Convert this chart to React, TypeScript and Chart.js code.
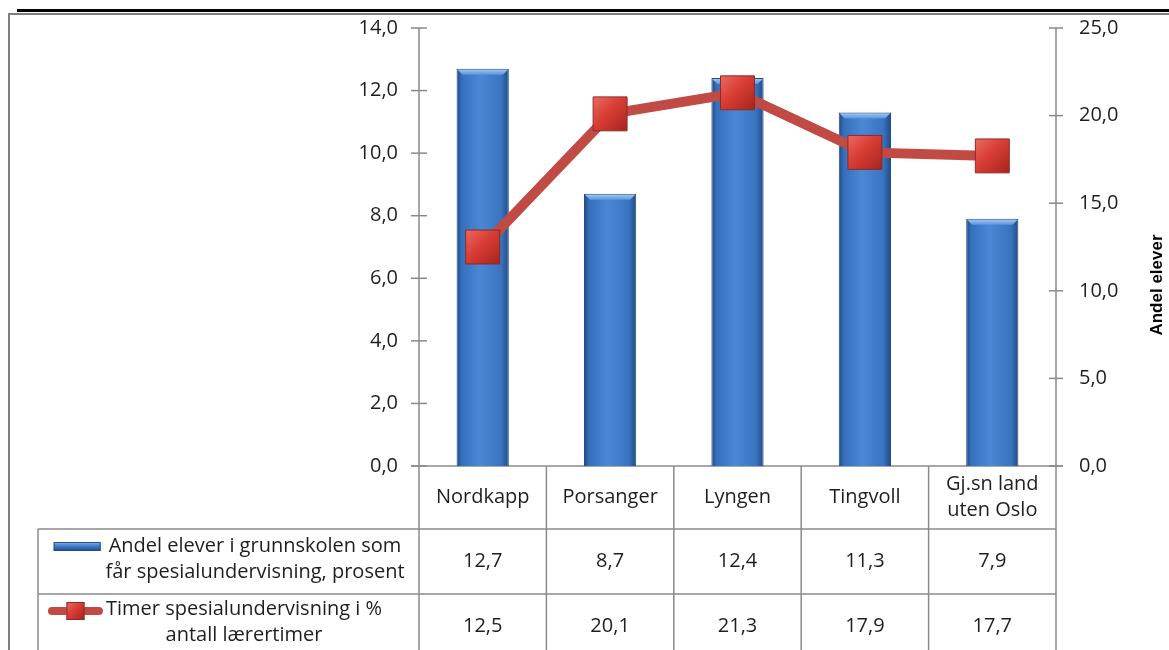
import React, { useEffect, useRef } from "react";
import { Chart, registerables } from "chart.js";

Chart.register(...registerables);

const categories: string[][] = [["Nordkapp"], ["Porsanger"], ["Lyngen"], ["Tingvoll"], ["Gj.sn land", "uten Oslo"]];
const barValues = [12.7, 8.7, 12.4, 11.3, 7.9];
const lineValues = [12.5, 20.1, 21.3, 17.9, 17.7];
const barLabel = ["Andel elever i grunnskolen som", "får spesialundervisning, prosent"];
const lineLabel = ["Timer spesialundervisning i %", "antall lærertimer"];
const leftAxis = { min: 0, max: 14, step: 2 };
const rightAxis = { min: 0, max: 25, step: 5 };
const rightTitle = "Andel elever";

const FONT = '"Open Sans", "Liberation Sans", sans-serif';
const TEXT = "#1e1e1e";
const GRID = "#8a8a8a";
const LINE = "#c24a45";
const BAR_PCT = 0.41;

const fmt = (v: number) => v.toFixed(1).replace(".", ",");

function barFill(ctx: any) {
  const chart = ctx.chart;
  const xs = chart.scales && chart.scales.x;
  if (!xs || ctx.dataIndex == null) return "#3b78c8";
  const x = xs.getPixelForValue(ctx.dataIndex);
  const hw = (xs.width / categories.length) * BAR_PCT / 2;
  if (!Number.isFinite(x) || !Number.isFinite(hw) || hw <= 0) return "#3b78c8";
  const g = chart.ctx.createLinearGradient(x - hw, 0, x + hw, 0);
  g.addColorStop(0, "#1f4a85");
  g.addColorStop(0.1, "#3670bd");
  g.addColorStop(0.45, "#4a87d4");
  g.addColorStop(0.85, "#3a74c0");
  g.addColorStop(1, "#204b86");
  return g;
}

function markerFill(ctx: any) {
  const chart = ctx.chart;
  const xs = chart.scales && chart.scales.x;
  const ys = chart.scales && chart.scales.y1;
  if (!xs || !ys || ctx.dataIndex == null) return "#d33c35";
  const x = xs.getPixelForValue(ctx.dataIndex);
  const y = ys.getPixelForValue(lineValues[ctx.dataIndex]);
  if (!Number.isFinite(x) || !Number.isFinite(y)) return "#d33c35";
  const g = chart.ctx.createLinearGradient(x - 17, y - 17, x + 17, y + 17);
  g.addColorStop(0, "#ea6a60");
  g.addColorStop(0.45, "#d83d34");
  g.addColorStop(1, "#a5241d");
  return g;
}

const tablePlugin = {
  id: "tablePlugin",
  beforeDatasetsDraw(chart: any) {
    const c = chart.ctx;
    const ys = chart.scales.y;
    const y1 = chart.scales.y1;
    const area = chart.chartArea;
    c.save();
    c.strokeStyle = GRID;
    c.lineWidth = 1.5;
    c.beginPath();
    c.moveTo(area.left, area.top);
    c.lineTo(area.left, chart.height);
    c.stroke();
    c.beginPath();
    c.moveTo(area.right, area.top);
    c.lineTo(area.right, area.bottom);
    c.stroke();
    for (let v = leftAxis.min; v <= leftAxis.max; v += leftAxis.step) {
      const y = ys.getPixelForValue(v);
      c.beginPath();
      c.moveTo(area.left - 8, y);
      c.lineTo(area.left + 8, y);
      c.stroke();
    }
    for (let v = rightAxis.min; v <= rightAxis.max; v += rightAxis.step) {
      const y = y1.getPixelForValue(v);
      c.beginPath();
      c.moveTo(area.right - 7, y);
      c.lineTo(area.right + 7, y);
      c.stroke();
    }
    c.beginPath();
    c.moveTo(area.left - 8, area.bottom);
    c.lineTo(area.right + 7, area.bottom);
    c.stroke();
    c.restore();
  },
  afterDatasetDraw(chart: any, args: any) {
    const meta = args.meta;
    if (meta.type !== "bar") return;
    const c = chart.ctx;
    c.save();
    meta.data.forEach((el: any) => {
      const l = el.x - el.width / 2;
      const r = el.x + el.width / 2;
      const t = el.y;
      const g = c.createLinearGradient(0, t, 0, t + 6);
      g.addColorStop(0, "#a9ccf5");
      g.addColorStop(1, "#5b95dc");
      c.fillStyle = g;
      c.beginPath();
      c.moveTo(l + 1, t + 1);
      c.lineTo(r - 1, t + 1);
      c.lineTo(r - 6, t + 6);
      c.lineTo(l + 6, t + 6);
      c.closePath();
      c.fill();
    });
    c.restore();
  },
  afterDraw(chart: any) {
    const c = chart.ctx;
    const xs = chart.scales.x;
    const area = chart.chartArea;
    const n = categories.length;
    const colW = (area.right - area.left) / n;
    const row1Top = 529;
    const row2Top = 594;
    const legendLeft = 38;
    c.save();

    c.strokeStyle = "#000";
    c.lineWidth = 3;
    c.beginPath();
    c.moveTo(17, 10.5);
    c.lineTo(chart.width, 10.5);
    c.stroke();
    c.strokeStyle = "#7f7f7f";
    c.lineWidth = 2;
    c.beginPath();
    c.moveTo(9, chart.height);
    c.lineTo(9, 14);
    c.lineTo(chart.width, 14);
    c.stroke();

    c.strokeStyle = GRID;
    c.lineWidth = 1.5;
    for (let k = 1; k <= n; k++) {
      const x = area.left + k * colW;
      c.beginPath();
      c.moveTo(x, area.bottom);
      c.lineTo(x, chart.height);
      c.stroke();
    }
    [row1Top, row2Top].forEach((y) => {
      c.beginPath();
      c.moveTo(legendLeft, y);
      c.lineTo(area.right, y);
      c.stroke();
    });
    c.beginPath();
    c.moveTo(legendLeft, row1Top);
    c.lineTo(legendLeft, chart.height);
    c.stroke();

    c.fillStyle = TEXT;
    c.font = `20px ${FONT}`;
    c.textAlign = "center";
    c.textBaseline = "middle";
    categories.forEach((lines, i) => {
      const x = xs.getPixelForValue(i);
      const cy = 497;
      const lh = 26;
      lines.forEach((t, j) => {
        c.fillText(t, x, cy + (j - (lines.length - 1) / 2) * lh);
      });
      c.fillText(fmt(barValues[i]), x, 561);
      c.fillText(fmt(lineValues[i]), x, 626);
    });

    const lh = 26;
    const r1x = 255;
    c.fillText(barLabel[0], r1x, 546);
    c.fillText(barLabel[1], r1x, 546 + lh);
    const r2x = 244;
    c.fillText(lineLabel[0], r2x, 609);
    c.fillText(lineLabel[1], r2x, 609 + lh);

    const w1 = c.measureText(barLabel[0]).width;
    const k1r = r1x - w1 / 2 - 8;
    const k1l = k1r - 47;
    const gb = c.createLinearGradient(0, 542, 0, 551);
    gb.addColorStop(0, "#8fbaf0");
    gb.addColorStop(0.35, "#4a87d4");
    gb.addColorStop(1, "#1f4a85");
    c.fillStyle = gb;
    c.fillRect(k1l, 542, 47, 9);
    c.strokeStyle = "#244f8a";
    c.lineWidth = 1;
    c.strokeRect(k1l + 0.5, 542.5, 46, 8);

    const w2 = c.measureText(lineLabel[0]).width;
    const k2r = r2x - w2 / 2 - 3;
    const k2l = k2r - 55;
    const ky = 611;
    c.strokeStyle = LINE;
    c.lineWidth = 8;
    c.lineCap = "round";
    c.beginPath();
    c.moveTo(k2l + 4, ky);
    c.lineTo(k2r - 4, ky);
    c.stroke();
    const mx = (k2l + k2r) / 2;
    const gm = c.createLinearGradient(mx - 9, ky - 9, mx + 9, ky + 9);
    gm.addColorStop(0, "#ea6a60");
    gm.addColorStop(0.45, "#d83d34");
    gm.addColorStop(1, "#a5241d");
    c.fillStyle = gm;
    c.fillRect(mx - 9, ky - 9, 18, 18);
    c.strokeStyle = "#8e2a25";
    c.lineWidth = 1;
    c.strokeRect(mx - 8.5, ky - 8.5, 17, 17);

    c.fillStyle = "#000";
    c.font = `bold 17px "Liberation Sans", Arial, sans-serif`;
    c.translate(1157, 285);
    c.rotate(-Math.PI / 2);
    c.textAlign = "center";
    c.textBaseline = "middle";
    c.fillText(rightTitle, 0, 0);
    c.restore();
  },
};

export default function App() {
  const ref = useRef<HTMLCanvasElement>(null);
  useEffect(() => {
    const canvas = ref.current;
    if (!canvas) return;
    const tickFont = { family: FONT, size: 20 };
    const chart = new Chart(canvas, {
      type: "bar",
      data: {
        labels: categories.map((c) => c.join(" ")),
        datasets: [
          {
            type: "line",
            label: lineLabel.join(" "),
            data: lineValues,
            yAxisID: "y1",
            order: 0,
            borderColor: LINE,
            borderWidth: 10,
            pointStyle: "rect",
            pointRadius: 24,
            pointHoverRadius: 24,
            pointBackgroundColor: markerFill as any,
            pointBorderColor: "#8e2a25",
            pointBorderWidth: 1,
            tension: 0,
            fill: false,
          } as any,
          {
            type: "bar",
            label: barLabel.join(" "),
            data: barValues,
            yAxisID: "y",
            order: 1,
            backgroundColor: barFill as any,
            borderColor: "#234d88",
            borderWidth: 1,
            barPercentage: BAR_PCT,
            categoryPercentage: 1,
          } as any,
        ],
      },
      options: {
        responsive: false,
        animation: false,
        layout: { padding: { left: 0, right: 0, top: 28, bottom: 184 } },
        plugins: {
          legend: { display: false },
          tooltip: { enabled: false },
          title: { display: false },
        },
        scales: {
          x: { display: false },
          y: {
            position: "left",
            min: leftAxis.min,
            max: leftAxis.max,
            ticks: {
              stepSize: leftAxis.step,
              padding: 21,
              font: tickFont,
              color: TEXT,
              callback: (v: any) => fmt(Number(v)),
            },
            grid: { display: false, drawTicks: false },
            border: { display: false },
            afterFit: (s: any) => {
              s.width = 419;
              s.paddingTop = 0;
              s.paddingBottom = 0;
            },
          },
          y1: {
            position: "right",
            min: rightAxis.min,
            max: rightAxis.max,
            ticks: {
              stepSize: rightAxis.step,
              padding: 23,
              font: tickFont,
              color: TEXT,
              callback: (v: any) => fmt(Number(v)),
            },
            grid: { display: false, drawTicks: false },
            border: { display: false },
            afterFit: (s: any) => {
              s.width = 113;
              s.paddingTop = 0;
              s.paddingBottom = 0;
            },
          },
        } as any,
      },
      plugins: [tablePlugin],
    });
    return () => chart.destroy();
  }, []);
  return (
    <div style={{ position: "fixed", left: 0, top: 0, width: 1169, height: 650, background: "#fff", overflow: "hidden" }}>
      <canvas ref={ref} width={1169} height={650} style={{ display: "block" }} />
    </div>
  );
}
